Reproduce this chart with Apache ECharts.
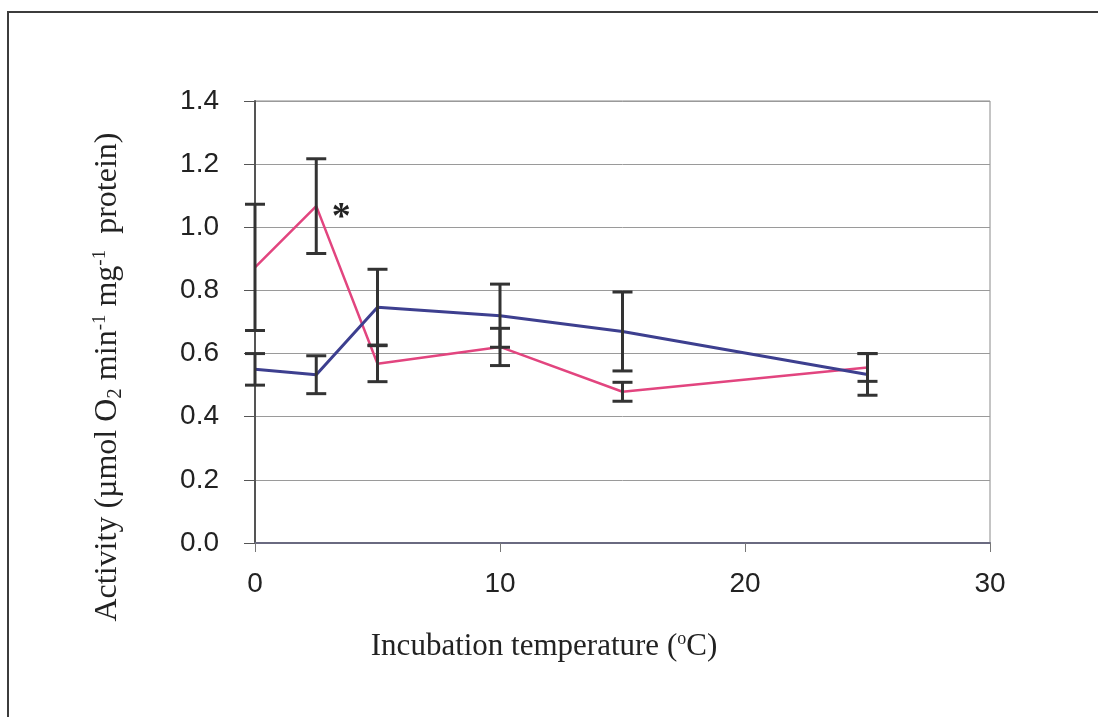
<!DOCTYPE html>
<html>
<head>
<meta charset="utf-8">
<script src="https://cdn.jsdelivr.net/npm/echarts@6/dist/echarts.min.js"></script>
<style>
html,body{margin:0;padding:0;background:#fff;}
#chart{width:1098px;height:717px;}
</style>
</head>
<body>
<div id="chart"></div>
<script>
// ---- data ----
var temps = [0, 2.5, 5, 10, 15, 25];
var pinkMeans = [0.873, 1.067, 0.568, 0.621, 0.479, 0.556];
var pinkErr   = [0.200, 0.150, 0.057, 0.059, 0.030, 0.044];
var blueMeans = [0.550, 0.533, 0.747, 0.720, 0.670, 0.534];
var blueErr   = [0.050, 0.060, 0.120, 0.100, 0.125, 0.066];
var xTicks = [0, 10, 20, 30];
var yTicks = [0.0, 0.2, 0.4, 0.6, 0.8, 1.0, 1.2, 1.4];

function pairs(xs, ys){ return xs.map(function(x,i){ return [x, ys[i]]; }); }
function errRows(xs, m, e){ return xs.map(function(x,i){ return [x, m[i]-e[i], m[i]+e[i]]; }); }

var chart = echarts.init(document.getElementById('chart'));

function errorSeries(rows){
  return {
    type: 'custom',
    z: 5,
    data: rows,
    renderItem: function(params, api){
      var x = api.value(0);
      var lo = api.coord([x, api.value(1)]);
      var hi = api.coord([x, api.value(2)]);
      var hw = 10;
      var st = {stroke: '#333333', lineWidth: 3, fill: null};
      return {
        type: 'group',
        children: [
          {type: 'line', shape: {x1: lo[0], y1: lo[1], x2: hi[0], y2: hi[1]}, style: st},
          {type: 'line', shape: {x1: lo[0]-hw, y1: lo[1], x2: lo[0]+hw, y2: lo[1]}, style: st},
          {type: 'line', shape: {x1: hi[0]-hw, y1: hi[1], x2: hi[0]+hw, y2: hi[1]}, style: st}
        ]
      };
    }
  };
}

var option = {
  animation: false,
  backgroundColor: '#ffffff',
  grid: {left: 255, right: 108, top: 101, bottom: 174, show: true, borderColor: '#8a8a8a', borderWidth: 1},
  xAxis: {
    type: 'value', min: 0, max: 30, interval: 10,
    axisLine: {show: true, lineStyle: {color: '#6a6a80', width: 2}},
    axisTick: {show: true, inside: false, length: 9, lineStyle: {color: '#777'}},
    axisLabel: {margin: 27, fontFamily: 'Liberation Sans', fontSize: 28, color: '#222',
      formatter: function(v){ return xTicks.indexOf(v) >= 0 ? String(v) : ''; }},
    splitLine: {show: false}
  },
  yAxis: {
    type: 'value', min: 0, max: 1.4, interval: 0.2,
    axisLine: {show: true, lineStyle: {color: '#555', width: 2}},
    axisTick: {show: true, inside: false, length: 11, lineStyle: {color: '#555'}},
    axisLabel: {margin: 36, fontFamily: 'Liberation Sans', fontSize: 28, color: '#222',
      formatter: function(v){ return (Math.round(v*10)/10).toFixed(1); }},
    splitLine: {show: true, lineStyle: {color: '#9a9a9a', width: 1}}
  },
  series: [
    {
      type: 'line', data: pairs(temps, pinkMeans), showSymbol: false, symbol: 'none', z: 3,
      lineStyle: {color: '#e2457f', width: 2.5},
      markPoint: {
        symbol: 'circle', symbolSize: 0,
        data: [{coord: [temps[1], pinkMeans[1]]}],
        label: {show: true, formatter: '*', offset: [25, 12], fontFamily: 'Liberation Serif',
          fontSize: 38, color: '#222', fontWeight: 'bold'}
      }
    },
    {
      type: 'line', data: pairs(temps, blueMeans), showSymbol: false, symbol: 'none', z: 3,
      lineStyle: {color: '#3d3f8f', width: 3}
    },
    errorSeries(errRows(temps, pinkMeans, pinkErr)),
    errorSeries(errRows(temps, blueMeans, blueErr))
  ],
  graphic: [
    {type: 'rect', shape: {x: 8, y: 12, width: 1200, height: 800},
      style: {fill: null, stroke: '#3c3c3c', lineWidth: 2}, silent: true},
    {type: 'text', x: 544, y: 647,
      style: {
        text: 'Incubation temperature ({sup|o}C)',
        rich: {sup: {fontSize: 18, verticalAlign: 'top', fontFamily: 'Liberation Serif', fill: '#222'}},
        fontFamily: 'Liberation Serif', fontSize: 31, fill: '#222', align: 'center', verticalAlign: 'middle', lineHeight: 34
      }},
    {type: 'text', x: 108, y: 377, rotation: Math.PI/2,
      style: {
        text: 'Activity (µmol O{sub|2} min{sup|-1} mg{sup|-1}  protein)',
        rich: {
          sup: {fontSize: 19, verticalAlign: 'top', fontFamily: 'Liberation Serif', fill: '#222'},
          sub: {fontSize: 21, verticalAlign: 'bottom', fontFamily: 'Liberation Serif', fill: '#222'}
        },
        fontFamily: 'Liberation Serif', fontSize: 32, fill: '#222', align: 'center', verticalAlign: 'middle', lineHeight: 35
      }}
  ]
};
chart.setOption(option);
</script>
</body>
</html>
